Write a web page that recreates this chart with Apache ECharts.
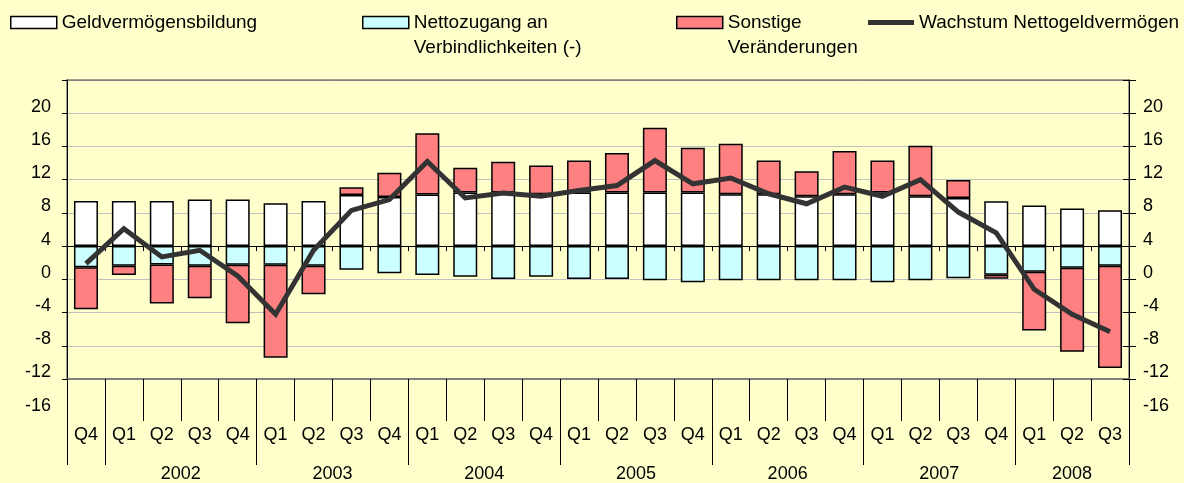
<!DOCTYPE html>
<html>
<head>
<meta charset="utf-8">
<script src="https://cdn.jsdelivr.net/npm/echarts@6/dist/echarts.min.js"></script>
<style>
html,body{margin:0;padding:0;background:#FFFFCC;}
#c{width:1184px;height:483px;}
</style>
</head>
<body>
<div id="c"></div>
<script>
// ---- data ----
const categories = [
  '2001 Q4',
  '2002 Q1','2002 Q2','2002 Q3','2002 Q4',
  '2003 Q1','2003 Q2','2003 Q3','2003 Q4',
  '2004 Q1','2004 Q2','2004 Q3','2004 Q4',
  '2005 Q1','2005 Q2','2005 Q3','2005 Q4',
  '2006 Q1','2006 Q2','2006 Q3','2006 Q4',
  '2007 Q1','2007 Q2','2007 Q3','2007 Q4',
  '2008 Q1','2008 Q2','2008 Q3'
];
const yearLabels = ['2002','2003','2004','2005','2006','2007','2008'];

const geldvermoegensbildung = [5.44,5.44,5.44,5.6,5.6,5.16,5.44,6.16,5.92,6.2,6.44,6.44,6.24,6.44,6.44,6.44,6.44,6.24,6.24,6.0,6.24,6.44,6.0,5.8,5.4,4.88,4.52,4.32];
const nettozugang = [-2.56,-2.36,-2.2,-2.36,-2.24,-2.24,-2.36,-2.84,-3.28,-3.48,-3.68,-3.96,-3.68,-3.96,-3.96,-4.12,-4.36,-4.12,-4.12,-4.12,-4.12,-4.36,-4.12,-3.88,-3.44,-3.08,-2.6,-2.36];
const sonstige = [-5.04,-1.12,-4.72,-3.92,-7.04,-11.2,-3.44,0.92,2.92,7.4,3.0,3.72,3.48,3.88,4.76,7.8,5.4,6.08,4.08,3.0,5.2,3.88,6.08,2.16,-0.48,-7.08,-10.12,-12.32];
const wachstum = [-2.1,2.1,-1.3,-0.5,-3.6,-8.2,-0.5,4.3,5.6,10.2,5.8,6.4,6.0,6.7,7.3,10.3,7.5,8.2,6.3,5.1,7.1,6.0,8.0,4.1,1.6,-5.2,-8.2,-10.3];

// axis: the printed tick labels sit 4 above the bar baseline
const axisMin = -16, axisMax = 20, axisStep = 4, labelShift = 4;

// ---- derived helpers ----
const yearOf = categories.map(c => c.split(' ')[0]);
const nHalf = categories.length * 2 + 1;
const yearAxisData = [];
for (let i = 0; i < nHalf; i++) yearAxisData.push('h' + i);
const yearText = {};
const yearTicks = new Set([0, nHalf - 1]);
yearLabels.forEach(y => {
  const first = yearOf.indexOf(y);
  const last = yearOf.lastIndexOf(y);
  yearText[first + last + 1] = y;
  yearTicks.add(first * 2);
});

const FONT = '"Liberation Sans", Arial, Helvetica, sans-serif';
const GRID = {left: 67, right: 55, top: 80, bottom: 104};
const splitColors = [];
for (let v = axisMin; v <= axisMax; v += axisStep) splitColors.push(v === axisMax ? '#808080' : '#C0C0C0');
const yFmt = v => (v >= axisMax ? '' : String(v + labelShift));

const names = ['Geldvermögensbildung', 'Nettozugang an\nVerbindlichkeiten (-)', 'Sonstige\nVeränderungen', 'Wachstum Nettogeldvermögen'];

const legendCommon = {
  orient: 'horizontal', padding: 0, itemWidth: 46, itemHeight: 12, icon: 'rect', selectedMode: false,
  itemStyle: {borderColor: '#000', borderWidth: 1.5},
  textStyle: {fontSize: 19, fontFamily: FONT, color: '#000', lineHeight: 25}
};
// multi-line legend entries: first line aligned with the icon
const firstLineFmt = name => '\n' + name;

const chart = echarts.init(document.getElementById('c'), null, {renderer: 'canvas'});
chart.setOption({
  animation: false,
  backgroundColor: '#FFFFCC',
  textStyle: {fontFamily: FONT},
  grid: Object.assign({show: true, borderColor: '#808080', borderWidth: 1.5, backgroundColor: 'transparent', containLabel: false, outerBoundsMode: 'none'}, GRID),
  legend: [
    Object.assign({}, legendCommon, {left: 10, top: 10, data: [names[0]]}),
    Object.assign({}, legendCommon, {left: 362, top: -15, data: [names[1]], formatter: firstLineFmt}),
    Object.assign({}, legendCommon, {left: 676, top: -15, data: [names[2]], formatter: firstLineFmt}),
    Object.assign({}, legendCommon, {left: 868, top: 10, itemHeight: 5,
      data: [{name: names[3], icon: 'rect', itemStyle: {color: '#333333', borderWidth: 0}}]})
  ],
  xAxis: [
    { // baseline axis through zero
      type: 'category', position: 'bottom', data: categories, boundaryGap: true,
      axisLine: {show: true, onZero: true, lineStyle: {color: '#000', width: 1}},
      axisTick: {show: true, interval: 0, length: 5, lineStyle: {color: '#000', width: 1}},
      axisLabel: {show: false}, splitLine: {show: false}
    },
    { // quarter labels at bottom
      type: 'category', position: 'bottom', data: categories, boundaryGap: true,
      axisLine: {show: true, onZero: false, lineStyle: {color: '#808080', width: 2}},
      axisTick: {show: true, interval: 0, length: 42, lineStyle: {color: '#000', width: 1}},
      axisLabel: {show: true, interval: 0, margin: 47, fontSize: 18, lineHeight: 18, color: '#000',
        formatter: v => v.split(' ')[1]},
      splitLine: {show: false}
    },
    { // year labels and year separators
      type: 'category', position: 'bottom', data: yearAxisData, boundaryGap: false,
      axisLine: {show: false, onZero: false},
      axisTick: {show: true, length: 86, interval: (i) => yearTicks.has(i), lineStyle: {color: '#000', width: 1}},
      axisLabel: {show: true, interval: 0, margin: 86, fontSize: 18, lineHeight: 18, color: '#000',
        formatter: (v, i) => yearText[i] || ''},
      splitLine: {show: false}
    }
  ],
  yAxis: [
    {
      type: 'value', position: 'left', min: axisMin, max: axisMax, interval: axisStep,
      axisLine: {show: true, onZero: false, lineStyle: {color: '#000', width: 1}},
      axisTick: {show: true, length: 5, lineStyle: {color: '#000', width: 1}},
      axisLabel: {show: true, margin: 16, fontSize: 18, color: '#000', verticalAlign: 'bottom', lineHeight: 13, formatter: yFmt},
      splitLine: {show: true, lineStyle: {color: splitColors, width: 1}}
    },
    {
      type: 'value', position: 'right', min: axisMin, max: axisMax, interval: axisStep,
      axisLine: {show: true, onZero: false, lineStyle: {color: '#000', width: 1}},
      axisTick: {show: true, length: 7, lineStyle: {color: '#000', width: 1}},
      axisLabel: {show: true, margin: 14, fontSize: 18, color: '#000', verticalAlign: 'bottom', lineHeight: 13, formatter: yFmt},
      splitLine: {show: false}
    },
    {
      type: 'value', position: 'right', min: axisMin, max: axisMax, interval: axisStep,
      axisLine: {show: false, onZero: false},
      axisTick: {show: true, inside: true, length: 6, lineStyle: {color: '#000', width: 1}},
      axisLabel: {show: false},
      splitLine: {show: false}
    }
  ],
  series: [
    {name: names[0], type: 'bar', stack: 'total', xAxisIndex: 0, yAxisIndex: 0, data: geldvermoegensbildung, barWidth: 24,
      itemStyle: {color: '#FFFFFF', borderColor: '#000', borderWidth: 1.5}},
    {name: names[1], type: 'bar', stack: 'total', xAxisIndex: 0, yAxisIndex: 0, data: nettozugang, barWidth: 24,
      itemStyle: {color: '#CCFFFF', borderColor: '#000', borderWidth: 1.5}},
    {name: names[2], type: 'bar', stack: 'total', xAxisIndex: 0, yAxisIndex: 0, data: sonstige, barWidth: 24,
      itemStyle: {color: '#FF8080', borderColor: '#000', borderWidth: 1.5}},
    {name: names[3], type: 'line', xAxisIndex: 0, yAxisIndex: 0, data: wachstum, symbol: 'none', z: 5,
      lineStyle: {color: '#333333', width: 5, join: 'miter', cap: 'butt'}, itemStyle: {color: '#333333'}}
  ]
});

// extra bottom label "-16" that the reference prints below the plot area
const yExtra = chart.convertToPixel({yAxisIndex: 0}, axisMin - axisStep);
const xLeft = GRID.left, xRight = 1184 - GRID.right;
const extraText = String(axisMin - axisStep + labelShift);
chart.setOption({
  graphic: [
    {type: 'text', x: xLeft - 16, y: yExtra, silent: true,
      style: {text: extraText, fill: '#000', fontSize: 18, fontFamily: FONT, align: 'right', verticalAlign: 'bottom', lineHeight: 13}},
    {type: 'text', x: xRight + 14, y: yExtra, silent: true,
      style: {text: extraText, fill: '#000', fontSize: 18, fontFamily: FONT, align: 'left', verticalAlign: 'bottom', lineHeight: 13}}
  ]
});
</script>
</body>
</html>
